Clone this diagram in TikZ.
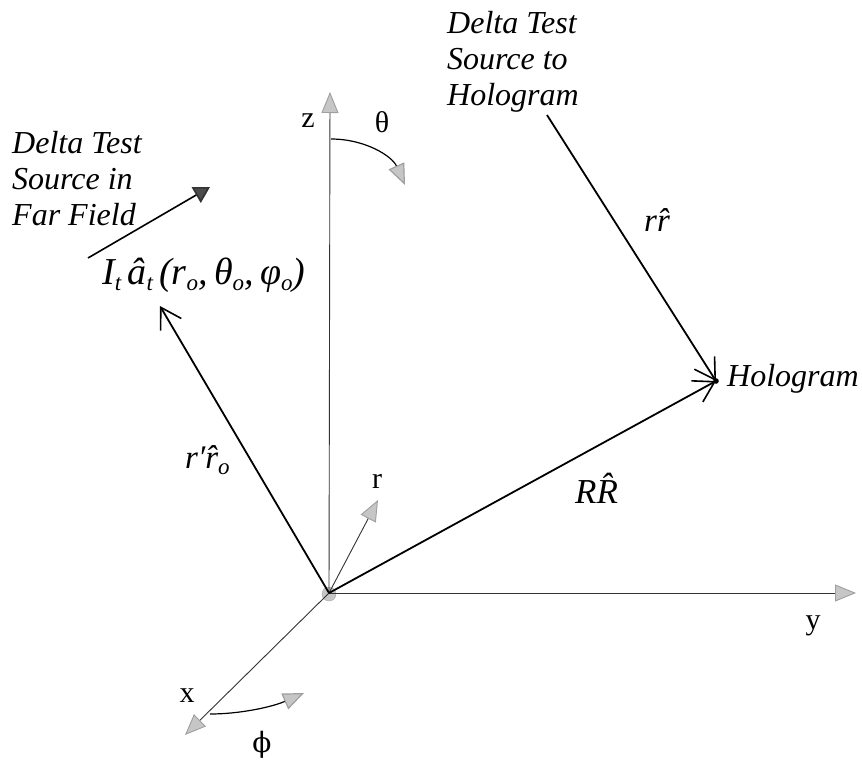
\documentclass[tikz,border=0pt]{standalone}
\usepackage{fontspec}
\setmainfont{Liberation Serif}
\newfontfamily\dvs{DejaVu Serif}
\usetikzlibrary{arrows.meta}
\newcommand\sbs[1]{\raisebox{-0.4ex}{\fontsize{23}{23}\selectfont #1}}
\begin{document}
\begin{tikzpicture}[x=1pt,y=-1pt,
  axis/.style={line width=0.9pt, black!80, -{Triangle[length=21pt,width=17pt,color=gray!75,fill=gray!45]}},
  vecarrow/.style={line width=1.8pt, black, -{Straight Barb[length=20pt,width=24pt,line width=1.6pt]}},
  curvarrow/.style={line width=1.2pt, black, -{Triangle[length=21pt,width=17pt,color=gray!75,fill=gray!45]}},
  farrow/.style={line width=1.6pt, black, -{Triangle[length=16pt,width=18pt,color=black!80,fill=black!70]}},
  axlabel/.style={font=\fontsize{30}{30}\selectfont, inner sep=0pt},
  note/.style={font=\fontsize{32}{36}\selectfont\itshape, align=left, inner sep=0pt},
  veclabel/.style={font=\fontsize{33}{33}\selectfont\itshape, inner sep=0pt}]
\useasboundingbox (0,0) rectangle (862,761);

% origin marker
\fill[gray!45, draw=gray!70] (329,594) circle (7);
\coordinate (O) at (329,593);
\coordinate (zt) at (330,92);
\coordinate (yt) at (856,593);
\coordinate (xt) at (185,735);
\coordinate (rt) at (378,500);
\coordinate (src) at (160,306);
\coordinate (H) at (716,381);
\coordinate (ts) at (547,115);
\coordinate (th1) at (331,139);
\coordinate (th2) at (405,185);
\coordinate (ph1) at (210,714);
\coordinate (ph2) at (304,693);
\coordinate (ff1) at (88,258);
\coordinate (ff2) at (210,187);

% axes
\draw[axis] (O) -- (zt);
\draw[axis] (O) -- (yt);
\draw[axis] (O) -- (xt);
\draw[axis] (O) -- (rt);

% angle arcs
\draw[curvarrow] (th1) .. controls (365,139) and (392,156) .. (th2);
\draw[curvarrow] (ph1) .. controls (240,714) and (272,707) .. (ph2);

% vectors
\draw[vecarrow] (O) -- (src);
\draw[vecarrow] (O) -- (H);
\draw[vecarrow] (ts) -- (H);
\fill (H) circle (2.8);

% far field arrow
\draw[farrow] (ff1) -- (ff2);

% axis labels
\node[axlabel] (zl) at (308,121) {z};
\node[axlabel] (thl) at (382,122) {θ};
\node[axlabel] (rl) at (377,481) {r};
\node[axlabel] (xl) at (187,696) {x};
\node[axlabel, font=\fontsize{28}{28}\selectfont\dvs] (phl) at (262,745) {ϕ};
\node[axlabel] (yl) at (813,626) {y};

% notes
\node[note, anchor=north west] (ffn) at (12,131) {Delta Test\\Source in\\Far Field};
\node[note, anchor=north west] (thn) at (447,11) {Delta Test\\Source to\\Hologram};
\node[note, anchor=base west] (hol) at (727,386) {Hologram};

% vector labels
\node[anchor=base west, inner sep=0pt, font=\fontsize{38}{38}\selectfont\itshape] (srcl) at (102,284)
  {I\sbs{t}\,â\sbs{t}\,(r\sbs{o},\,θ\sbs{o},\,φ\sbs{o})};
\node[veclabel, anchor=base west] (rrl) at (644,231) {r\^{r}};
\node[veclabel, anchor=base west] (rpl) at (185,468) {r′\^{r}\sbs{o}};
\node[veclabel, anchor=base west, font=\fontsize{35}{35}\selectfont\itshape] (RRl) at (575,503) {R\^{R}};
\end{tikzpicture}
\end{document}
